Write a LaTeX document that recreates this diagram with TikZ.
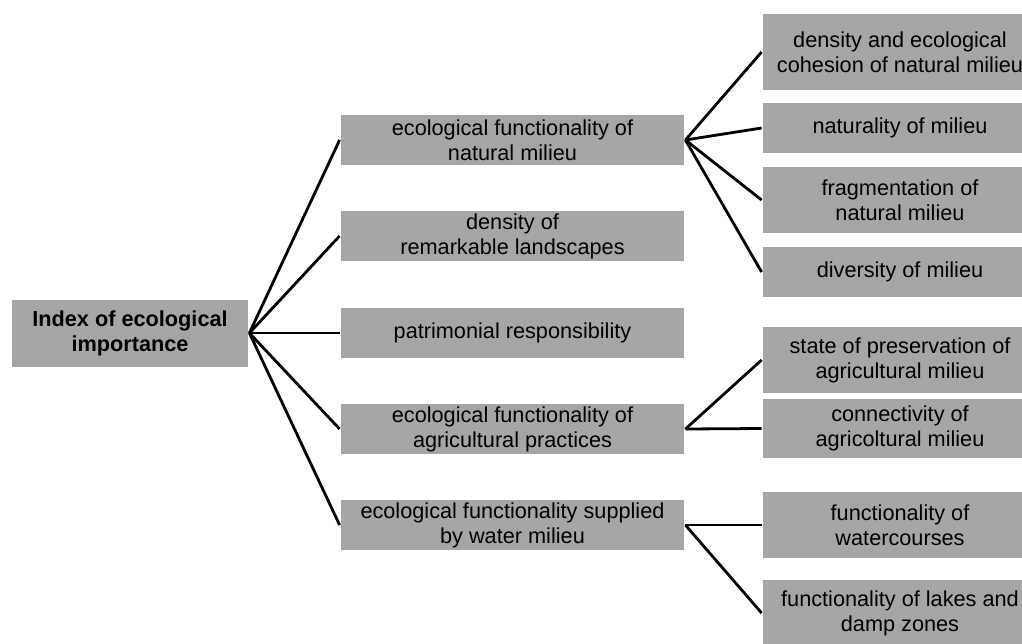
\documentclass[tikz,border=0pt]{standalone}
\usepackage{fontspec}
\setmainfont{Liberation Sans}
\usepackage{tikz}

\definecolor{boxgray}{RGB}{166,166,166}

\begin{document}
\begin{tikzpicture}[x=1pt,y=-1pt,line width=2.8pt,
            box/.style={fill=boxgray, draw=none, align=center, inner sep=0pt,
            font=\fontsize{21.7}{25}\selectfont},
            mid box/.style={box, minimum width=343pt, minimum height=50pt},
            leaf box/.style={box, minimum width=274pt}]

        \useasboundingbox (0,0) rectangle (1022,643);
        \clip (0,0) rectangle (1022,643);

        \node[box, minimum width=236pt, minimum height=67pt, font=\fontsize{21.7}{25}\selectfont\bfseries] (idx) at (130,333) {Index of ecological\\importance};

        \node[mid box] (fnat) at (512.5,140) {ecological functionality of\\natural milieu};
        \node[mid box] (dens) at (512.5,236) {density of\\remarkable landscapes};
        \node[mid box] (patr) at (512.5,333) {patrimonial responsibility};
        \node[mid box] (fagr) at (512.5,429) {ecological functionality of\\agricultural practices};
        \node[mid box] (fwat) at (512.5,525) {ecological functionality supplied\\by water milieu};

        \node[leaf box, minimum height=76pt] (coh) at (900,52) {density and ecological\\cohesion of natural milieu};
        \node[leaf box, minimum height=50pt] (nat) at (900,128) {naturality of milieu};
        \node[leaf box, minimum height=66pt] (frag) at (900,200) {fragmentation of\\natural milieu};
        \node[leaf box, minimum height=50pt] (div) at (900,272) {diversity of milieu};
        \node[leaf box, minimum height=66pt] (pres) at (900,360) {state of preservation of\\agricultural milieu};
        \node[leaf box, minimum height=59pt] (conn) at (900,428.5) {connectivity of\\agricoltural milieu};
        \node[leaf box, minimum height=66pt] (wcrs) at (900,525) {functionality of\\watercourses};
        \node[leaf box, minimum height=66pt] (lake) at (900,613) {functionality of lakes and\\damp zones};

        \path
        (idx.east) edge (fnat.west)
        (idx.east) edge (dens.west)
        (idx.east) edge (patr.west)
        (idx.east) edge (fagr.west)
        (idx.east) edge (fwat.west)
        (fnat.east) edge (coh.west)
        (fnat.east) edge (nat.west)
        (fnat.east) edge (frag.west)
        (fnat.east) edge (div.west)
        (fagr.east) edge (pres.west)
        (fagr.east) edge (conn.west)
        (fwat.east) edge (wcrs.west)
        (fwat.east) edge (lake.west);

    \end{tikzpicture}
\end{document}
